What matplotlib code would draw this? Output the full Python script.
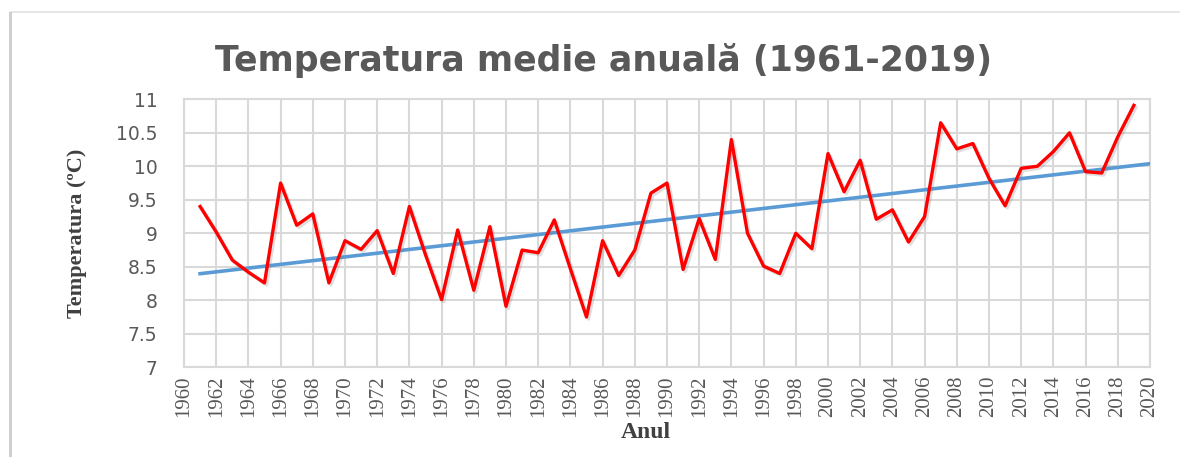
import numpy as np
import matplotlib
matplotlib.use("Agg")
import matplotlib.pyplot as plt
import matplotlib.patheffects as pe
from matplotlib.patches import Rectangle

# annual mean temperature, 1961-2019
years = list(range(1961, 2020))
temps = [9.40, 9.02, 8.60, 8.42, 8.26, 9.75, 9.12, 9.29, 8.26, 8.89,
         8.76, 9.04, 8.40, 9.40, 8.68, 8.01, 9.05, 8.15, 9.10, 7.91,
         8.75, 8.71, 9.20, 8.47, 7.75, 8.89, 8.37, 8.75, 9.60, 9.75,
         8.46, 9.22, 8.61, 10.40, 9.00, 8.51, 8.40, 9.00, 8.77, 10.19,
         9.62, 10.09, 9.21, 9.35, 8.87, 9.25, 10.65, 10.26, 10.34, 9.82,
         9.41, 9.97, 10.00, 10.22, 10.50, 9.92, 9.90, 10.44, 10.91]

xticks = list(range(1960, 2021, 2))
yticks = [7, 7.5, 8, 8.5, 9, 9.5, 10, 10.5, 11]
ytick_labels = ["7", "7.5", "8", "8.5", "9", "9.5", "10", "10.5", "11"]

# linear trend, extended one year forward
coef = np.polyfit(years, temps, 1)
trend_x = np.array([years[0], 2020])
trend_y = np.polyval(coef, trend_x)

gray = "#595959"
grid = "#d9d9d9"
W, H = 1180, 457

fig = plt.figure(figsize=(W / 100, H / 100), dpi=100)
fig.patch.set_facecolor("white")

# chart frame
fig.add_artist(Rectangle((11 / W, -0.05), 1.2, 1 - 12 / H + 0.05,
                         transform=fig.transFigure, fill=False,
                         edgecolor="#e2e2e2", linewidth=1.2))
fig.add_artist(Rectangle((9 / W, -0.05), 2.5 / W, 1 - 12 / H + 0.05,
                         transform=fig.transFigure, facecolor="#cfcfcf",
                         edgecolor="none"))

ax = fig.add_axes([184 / W, 1 - 367.3 / H, (1150 - 184) / W, (367.3 - 99.3) / H])

ax.plot(trend_x, trend_y, color="#5b9bd5", linewidth=2.6, zorder=3)
ax.plot(years, temps, color="#ff0000", linewidth=2.4, zorder=4,
        path_effects=[pe.SimpleLineShadow(offset=(1.5, -1.5), alpha=0.25, shadow_color="gray"),
                      pe.Normal()])

ax.set_xlim(1960, 2020)
ax.set_ylim(7, 11)
ax.set_xticks(xticks)
ax.set_xticklabels([str(y) for y in xticks], rotation=90, fontsize=15,
                   family="Liberation Serif", color=gray)
ax.set_yticks(yticks)
ax.set_yticklabels(ytick_labels, fontsize=13.5, family="DejaVu Sans", color=gray)
ax.tick_params(axis="both", length=0)
ax.tick_params(axis="x", pad=6)
ax.tick_params(axis="y", pad=19)

ax.grid(True, color=grid, linewidth=1.5)
ax.set_axisbelow(True)
for s in ax.spines.values():
    s.set_color(grid)
    s.set_linewidth(1.5)

ax.set_ylabel("Temperatura (ºC)", family="Liberation Serif", fontweight="bold",
              fontsize=16, color="#404040", va="center")
ax.yaxis.set_label_coords(77 / W, 1 - 233 / H, transform=fig.transFigure)
ax.set_xlabel("Anul", family="Liberation Serif", fontweight="bold",
              fontsize=17, color="#404040", va="center")
ax.xaxis.set_label_coords(646 / W, 1 - 433 / H, transform=fig.transFigure)

fig.text(604 / W, 1 - 60 / H, "Temperatura medie anuală (1961-2019)",
         ha="center", va="center", fontsize=25, fontweight="bold",
         family="DejaVu Sans", color=gray)

fig.savefig("out.png", dpi=100)
